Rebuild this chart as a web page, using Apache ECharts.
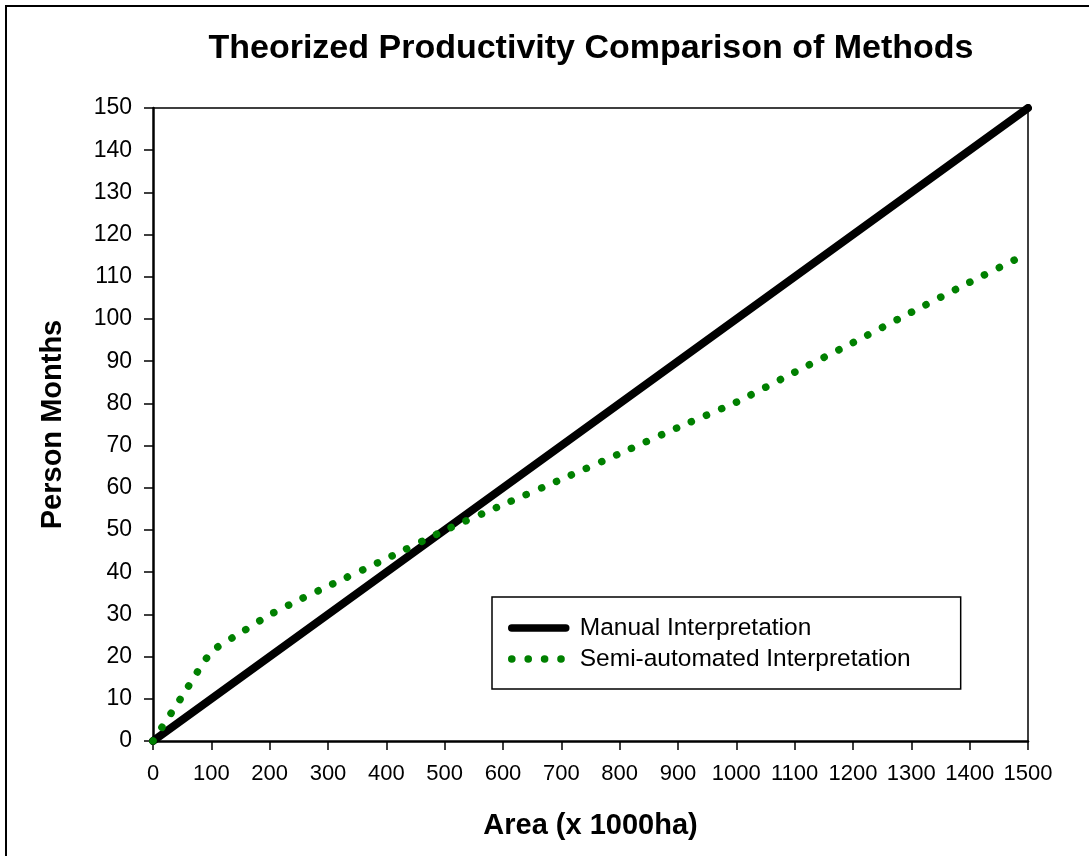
<!DOCTYPE html>
<html>
<head>
<meta charset="utf-8">
<script src="https://cdn.jsdelivr.net/npm/echarts@6/dist/echarts.min.js"></script>
<style>
html, body { margin: 0; padding: 0; background: #fff; }
#main { width: 1089px; height: 856px; }
</style>
</head>
<body>
<div id="main"></div>
<script>
// area (x 1000ha) and person months
var manualX = [0, 1500];
var manualY = [0, 150];

var semiX = [0, 50, 100, 150, 200, 250, 300, 400, 500, 600, 700, 800, 900, 1000, 1100, 1200, 1300, 1400, 1480];
var semiY = [0, 10.6, 21.1, 25.6, 29.9, 33.4, 36.7, 43.2, 49.9, 56.0, 62.0, 68.1, 74.3, 80.3, 87.4, 94.4, 101.6, 108.7, 114.2];

var seriesNames = ['Manual Interpretation', 'Semi-automated Interpretation'];

function pairs(xs, ys) {
    var out = [];
    for (var i = 0; i < xs.length; i++) {
        out.push([xs[i], ys[i]]);
    }
    return out;
}

var font = '"Liberation Sans", Arial, sans-serif';
var chart = echarts.init(document.getElementById('main'));

var option = {
    backgroundColor: '#fff',
    animation: false,
    title: {
        text: 'Theorized Productivity Comparison of Methods',
        left: 586,
        top: 27,
        textAlign: 'center',
        textStyle: { fontFamily: font, fontSize: 34, fontWeight: 'bold', color: '#000' }
    },
    graphic: [
        // outer chart frame (right and bottom run off the picture)
        { type: 'rect', shape: { x: 6, y: 6, width: 1200, height: 1000 },
          style: { fill: null, stroke: '#000', lineWidth: 2 }, z: 100 },
        // thin frame on top and right of plot
        { type: 'polyline', shape: { points: [[153, 108], [1028, 108], [1028, 741]] },
          style: { stroke: '#000', lineWidth: 1.5, fill: null }, z: 1 }
    ],
    legend: {
        left: 492,
        top: 597,
        orient: 'vertical',
        backgroundColor: '#fff',
        borderColor: '#000',
        borderWidth: 1.5,
        padding: [17, 50, 16, 16],
        itemGap: 3,
        itemWidth: 54,
        itemHeight: 20,
        itemStyle: { opacity: 0 },
        lineStyle: { width: 7.5, cap: 'round' },
        textStyle: { fontFamily: font, fontSize: 24.5, lineHeight: 28, color: '#000', padding: [0, 0, 0, 9] },
        data: seriesNames
    },
    grid: {
        left: 153,
        top: 108,
        width: 875,
        height: 633
    },
    xAxis: {
        type: 'value',
        min: 0,
        max: 1500,
        interval: 100,
        name: 'Area (x 1000ha)',
        nameLocation: 'middle',
        nameGap: 70,
        nameTextStyle: { fontFamily: font, fontSize: 29, fontWeight: 'bold', color: '#000' },
        axisLine: { show: true, lineStyle: { color: '#000', width: 2.5 } },
        axisTick: { show: true, length: 9, lineStyle: { color: '#000', width: 1.5 } },
        axisLabel: { fontFamily: font, fontSize: 22, color: '#000', margin: 22,
                     formatter: function (v) { return String(v); } },
        splitLine: { show: false }
    },
    yAxis: {
        type: 'value',
        min: 0,
        max: 150,
        interval: 10,
        name: 'Person Months',
        nameLocation: 'middle',
        nameGap: 86,
        nameTextStyle: { fontFamily: font, fontSize: 29, fontWeight: 'bold', color: '#000' },
        axisLine: { show: true, lineStyle: { color: '#000', width: 2.5 } },
        axisTick: { show: true, length: 9, lineStyle: { color: '#000', width: 1.5 } },
        axisLabel: { fontFamily: font, fontSize: 23, color: '#000', margin: 21 },
        splitLine: { show: false }
    },
    series: [
        {
            name: seriesNames[0],
            type: 'line',
            data: pairs(manualX, manualY),
            symbol: 'none',
            color: '#000',
            lineStyle: { color: '#000', width: 8, cap: 'round' },
            z: 3
        },
        {
            name: seriesNames[1],
            type: 'line',
            data: pairs(semiX, semiY),
            symbol: 'none',
            smooth: 0.2,
            color: '#008000',
            lineStyle: { color: '#008000', width: 7.5, type: [0.1, 16.3], cap: 'round' },
            z: 4
        }
    ]
};

chart.setOption(option);
</script>
</body>
</html>
